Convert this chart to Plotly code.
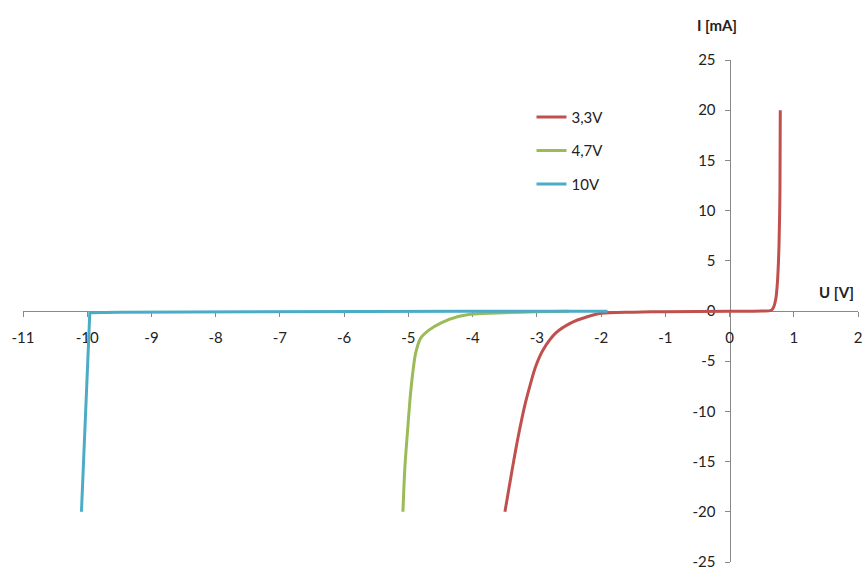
import plotly.graph_objects as go

# Data
u_33 = [-3.497, -3.39, -3.29, -3.18, -3.097, -3.02, -2.906, -2.708, -2.475, -2.215, -2.00, -1.50, -1.00, 0.00, 0.50, 0.64, 0.68, 0.72, 0.745, 0.77, 0.785, 0.79]
i_33 = [-20.0, -16.0, -12.5, -9.2, -7.2, -5.55, -3.9, -2.2, -1.2, -0.57, -0.23, -0.12, -0.07, -0.03, 0.0, 0.05, 0.3, 1.2, 2.8, 6.5, 12.0, 20.0]

u_47 = [-5.085, -5.054, -5.016, -4.976, -4.938, -4.887, -4.809, -4.68, -4.498, -4.238, -3.98, -3.51, -3.00, -2.50]
i_47 = [-20.0, -15.5, -12.2, -8.9, -6.5, -4.2, -2.7, -1.9, -1.2, -0.57, -0.30, -0.17, -0.08, -0.03]

u_10 = [-10.09, -9.96, -9.50, -8.00, -6.00, -4.00, -1.90]
i_10 = [-20.0, -0.17, -0.12, -0.08, -0.05, -0.03, -0.02]

names = ["3,3V", "4,7V", "10V"]
colors = ["#C0504D", "#9BBB59", "#4BACC6"]
shapes = ["spline", "spline", "linear"]

x_ticks = list(range(-11, 3))
y_ticks = list(range(-25, 30, 5))

FONT = "Lato, 'Liberation Sans', Arial, sans-serif"

fig = go.Figure()
for u, i, n, c, s in zip([u_33, u_47, u_10], [i_33, i_47, i_10], names, colors, shapes):
    line = dict(color=c, width=3, shape=s)
    if s == "spline":
        line["smoothing"] = 0.8
    fig.add_trace(go.Scatter(x=u, y=i, mode="lines", name=n, legendgroup=n,
                             line=line, cliponaxis=False))

fig.update_layout(
    width=865, height=567,
    margin=dict(l=23, r=7, t=60, b=5, autoexpand=False),
    paper_bgcolor="white", plot_bgcolor="white",
    font=dict(family=FONT, size=15, color="#222222"),
    showlegend=True,
    legend=dict(x=0.609, y=0.919, xanchor="left", yanchor="top",
                bgcolor="rgba(0,0,0,0)", tracegroupgap=11,
                font=dict(family=FONT, size=15, color="#222222")),
    xaxis=dict(range=[-11, 2], tickvals=x_ticks, ticktext=[str(v) for v in x_ticks],
               anchor="free", position=0.5, showgrid=False, zeroline=False,
               showline=True, linecolor="#888888", linewidth=1,
               ticks="outside", ticklen=5, tickcolor="#888888",
               ticklabelstandoff=8, layer="below traces", fixedrange=True,
               automargin=False, ticklabeloverflow="allow"),
    yaxis=dict(range=[-25, 25], tickvals=y_ticks, ticktext=[str(v) for v in y_ticks],
               anchor="free", position=11/13, showgrid=False, zeroline=False,
               showline=True, linecolor="#888888", linewidth=1,
               ticks="outside", ticklen=5, tickcolor="#888888",
               ticklabelstandoff=6, layer="below traces", fixedrange=True,
               automargin=False, ticklabeloverflow="allow"),
    annotations=[
        dict(text="<b>I [mA]</b>", xref="x", yref="paper", x=-0.2, y=1.0697,
             xanchor="center", yanchor="middle",
             showarrow=False, font=dict(family=FONT, size=15, color="#222222")),
        dict(text="<b>U [V]</b>", xref="x", yref="y", x=1.67, y=1.9,
             xanchor="center", yanchor="middle",
             showarrow=False, font=dict(family=FONT, size=15, color="#222222")),
    ],
)

fig.write_html("out.html", config={"displayModeBar": False},
               post_script="document.body.style.margin='0px';document.body.style.overflow='hidden';")
